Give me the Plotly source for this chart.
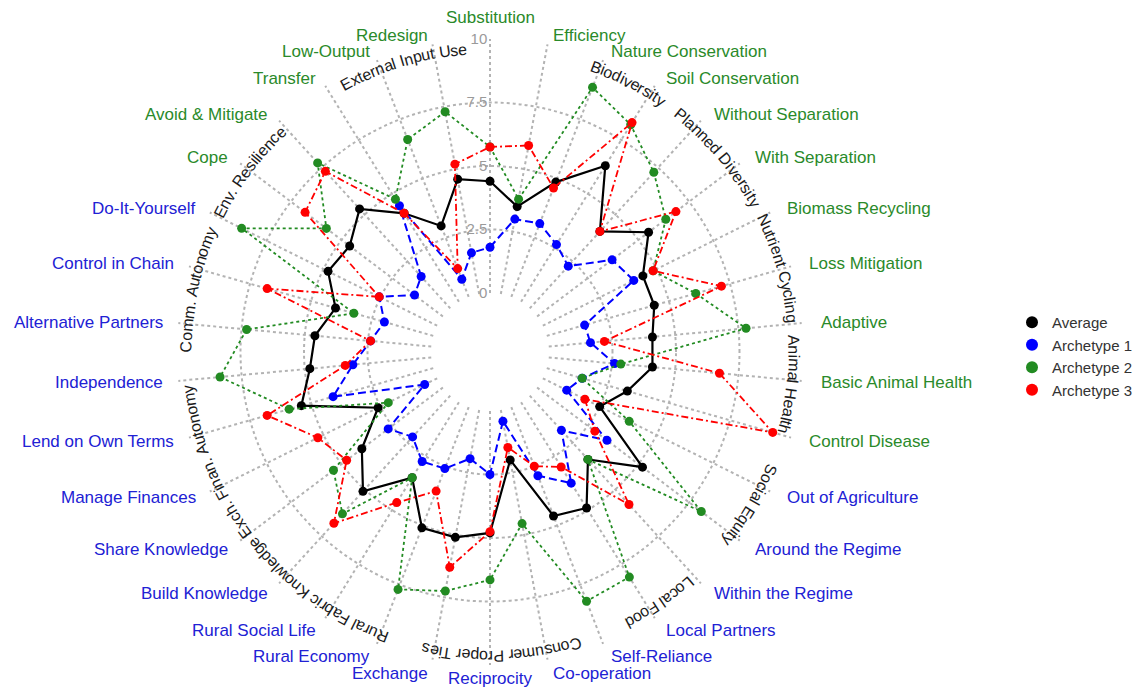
import math
import plotly.graph_objects as go

# ---------------- data ----------------
categories = [
    "Substitution", "Efficiency", "Nature Conservation", "Soil Conservation",
    "Without Separation", "With Separation", "Biomass Recycling", "Loss Mitigation",
    "Adaptive", "Basic Animal Health", "Control Disease", "Out of Agriculture",
    "Around the Regime", "Within the Regime", "Local Partners", "Self-Reliance",
    "Co-operation", "Reciprocity", "Exchange", "Rural Economy", "Rural Social Life",
    "Build Knowledge", "Share Knowledge", "Manage Finances", "Lend on Own Terms",
    "Independence", "Alternative Partners", "Control in Chain", "Do-It-Yourself",
    "Cope", "Avoid & Mitigate", "Transfer", "Low-Output", "Redesign",
]
category_domain = (["env"] * 11) + (["soc"] * 18) + (["env"] * 5)

average = [4.4, 3.5, 4.85, 6.3, 4.1, 5.5, 4.4, 4.4, 4.1, 4.1, 3.3, 2.5, 5.2, 3.4,
           4.9, 4.6, 2.0, 4.8, 5.1, 5.1, 3.5, 5.1, 4.0, 2.6, 5.4, 4.8, 4.6, 4.0,
           4.8, 4.6, 5.3, 4.1, 3.0, 4.6]
archetype1 = [1.8, 3.0, 3.1, 2.65, 2.25, 3.7, 4.0, 1.55, 1.65, 2.6, 1.45, 1.05, 3.45,
              1.85, 3.75, 2.9, 0.45, 2.5, 1.95, 2.6, 2.75, 2.2, 2.7, 0.55, 4.1, 3.1,
              2.4, 2.0, 2.55, 1.4, 1.7, 4.45, 0.75, 1.65]
archetype2 = [5.75, 3.8, 8.85, 8.2, 7.25, 6.35, 4.85, 6.1, 7.8, 2.85, 1.45, 3.8, 8.1,
              3.4, 8.1, 8.2, 4.55, 6.65, 7.25, 7.7, 3.5, 6.3, 5.4, 2.15, 5.9, 8.35,
              7.3, 3.25, 8.6, 5.75, 7.75, 4.75, 6.65, 7.3]
archetype3 = [5.75, 5.95, 4.6, 8.3, 4.1, 6.85, 4.85, 7.15, 2.2, 6.75, 9.25, 1.85, 2.85,
              5.8, 3.0, 2.5, 1.5, 4.75, 6.3, 3.55, 4.65, 6.8, 4.75, 5.25, 6.8, 3.4,
              2.4, 6.8, 2.55, 6.8, 7.3, 4.1, 1.2, 5.2]

radial_ticks = [0, 2.5, 5, 7.5, 10]
radial_ticktext = ["0", "2.5", "5", "7.5", "10"]

group_labels = ["External Input Use", "Biodiversity", "Planned Diversity",
                "Nutrient Cycling", "Animal Health", "Social Equity", "Local Food",
                "Consumer Proper Ties", "Rural Fabric Knowledge Exch.",
                "Finan. Autonomy", "Comm. Autonomy", "Env. Resilience"]
group_center_deg = [343.3, 27.2, 49.5, 73.8, 96.2, 120.5, 146.0, 177.8, 220.0,
                    252.4, 282.0, 306.8]

series_names = ["Average", "Archetype 1", "Archetype 2", "Archetype 3"]

# ---------------- styling / geometry ----------------
W, H = 1141, 690
CX, CY, R = 490, 352, 313
HOLE = 59 / 313
domain_colors = {"env": "#2a8a2a", "soc": "#2121d4"}
styles = [
    dict(color="black", dash="solid", width=2.2),
    dict(color="#0000ff", dash="8px,4px", width=2.0),
    dict(color="#228b22", dash="3px,3px", width=1.8),
    dict(color="#ff0000", dash="7px,3px,2px,3px", width=1.8),
]
series_values = [average, archetype1, archetype2, archetype3]

fig = go.Figure()
for name, vals, st in zip(series_names, series_values, styles):
    fig.add_trace(go.Scatterpolar(
        r=vals + vals[:1], theta=categories + categories[:1], mode="lines",
        line=dict(color=st["color"], dash=st["dash"], width=st["width"]),
        showlegend=False, legendgroup=name, hoverinfo="skip"))
    fig.add_trace(go.Scatterpolar(
        r=vals, theta=categories, mode="markers", name=name, legendgroup=name,
        marker=dict(color=st["color"], size=9)))

grid = dict(gridcolor="#b3b3b3", griddash="dot", gridwidth=1.5)
fig.update_layout(
    width=W, height=H,
    margin=dict(l=0, r=0, t=0, b=0),
    paper_bgcolor="white", plot_bgcolor="white",
    font=dict(family="Arial, Liberation Sans, sans-serif"),
    polar=dict(
        domain=dict(x=[(CX - R) / W, (CX + R) / W], y=[1 - (CY + R) / H, 1 - (CY - R) / H]),
        hole=HOLE,
        bgcolor="white",
        angularaxis=dict(type="category", categoryorder="array", categoryarray=categories,
                         rotation=90, direction="clockwise", showticklabels=False,
                         ticks="", showline=False, **grid),
        radialaxis=dict(range=[0, 10], tickvals=radial_ticks, ticktext=radial_ticktext,
                        angle=90, tickangle=90, side="counterclockwise", showline=False,
                        ticks="", tickfont=dict(color="#9a9a9a", size=15), **grid),
    ),
    legend=dict(x=1012 / W, xanchor="left", y=1 - 356 / H, yanchor="middle",
                font=dict(size=15, color="#333333"), bgcolor="rgba(0,0,0,0)",
                itemsizing="constant", tracegroupgap=0),
    showlegend=True,
)

# outer category labels
n = len(categories)
for k, (cat, dom) in enumerate(zip(categories, category_domain)):
    th = math.radians(k * 360 / n)
    s, c = math.sin(th), math.cos(th)
    if abs(s) < 0.05:
        xa, rx, ry = "center", 0, (334 if c > 0 else 326)
    elif s > 0:
        xa, rx, ry = "left", 330, (322 if c > 0 else 327)
    else:
        xa, rx, ry = "right", 326, (322 if c > 0 else 327)
    px = CX + rx * s
    py = CY - ry * c
    fig.add_annotation(x=px / W, y=1 - py / H, xref="paper", yref="paper", text=cat,
                       showarrow=False, xanchor=xa, yanchor="middle",
                       font=dict(size=17, color=domain_colors[dom]))

# curved group labels
AW = {'A': 667, 'B': 667, 'C': 722, 'D': 722, 'E': 667, 'F': 611, 'H': 722, 'I': 278,
      'K': 667, 'L': 556, 'N': 722, 'P': 667, 'R': 722, 'S': 667, 'T': 611, 'U': 722,
      'a': 556, 'b': 556, 'c': 500, 'd': 556, 'e': 556, 'f': 278, 'g': 556, 'h': 556,
      'i': 222, 'j': 222, 'k': 500, 'l': 222, 'm': 833, 'n': 556, 'o': 556, 'p': 556,
      'q': 556, 'r': 333, 's': 500, 't': 278, 'u': 556, 'v': 500, 'w': 722, 'x': 500,
      'y': 500, 'z': 500, ' ': 278, '.': 278}
FS_G = 16
RG = 304
for name, cdeg in zip(group_labels, group_center_deg):
    widths = [AW.get(ch, 556) * FS_G / 1000 for ch in name]
    span = sum(widths) / RG
    start = math.radians(cdeg) - span / 2
    acc = 0.0
    for ch, w in zip(name, widths):
        ang = start + (acc + w / 2) / RG
        acc += w
        if ch == " ":
            continue
        px = CX + RG * math.sin(ang)
        py = CY - RG * math.cos(ang)
        deg = math.degrees(ang) % 360
        if deg > 180:
            deg -= 360
        fig.add_annotation(x=px / W, y=1 - py / H, xref="paper", yref="paper", text=ch,
                           textangle=deg, showarrow=False, xanchor="center",
                           yanchor="middle", font=dict(size=FS_G, color="#1a1a1a"))

fig.write_html("out.html", config={"displayModeBar": False},
               post_script="document.body.style.margin='0';document.body.style.padding='0';")
